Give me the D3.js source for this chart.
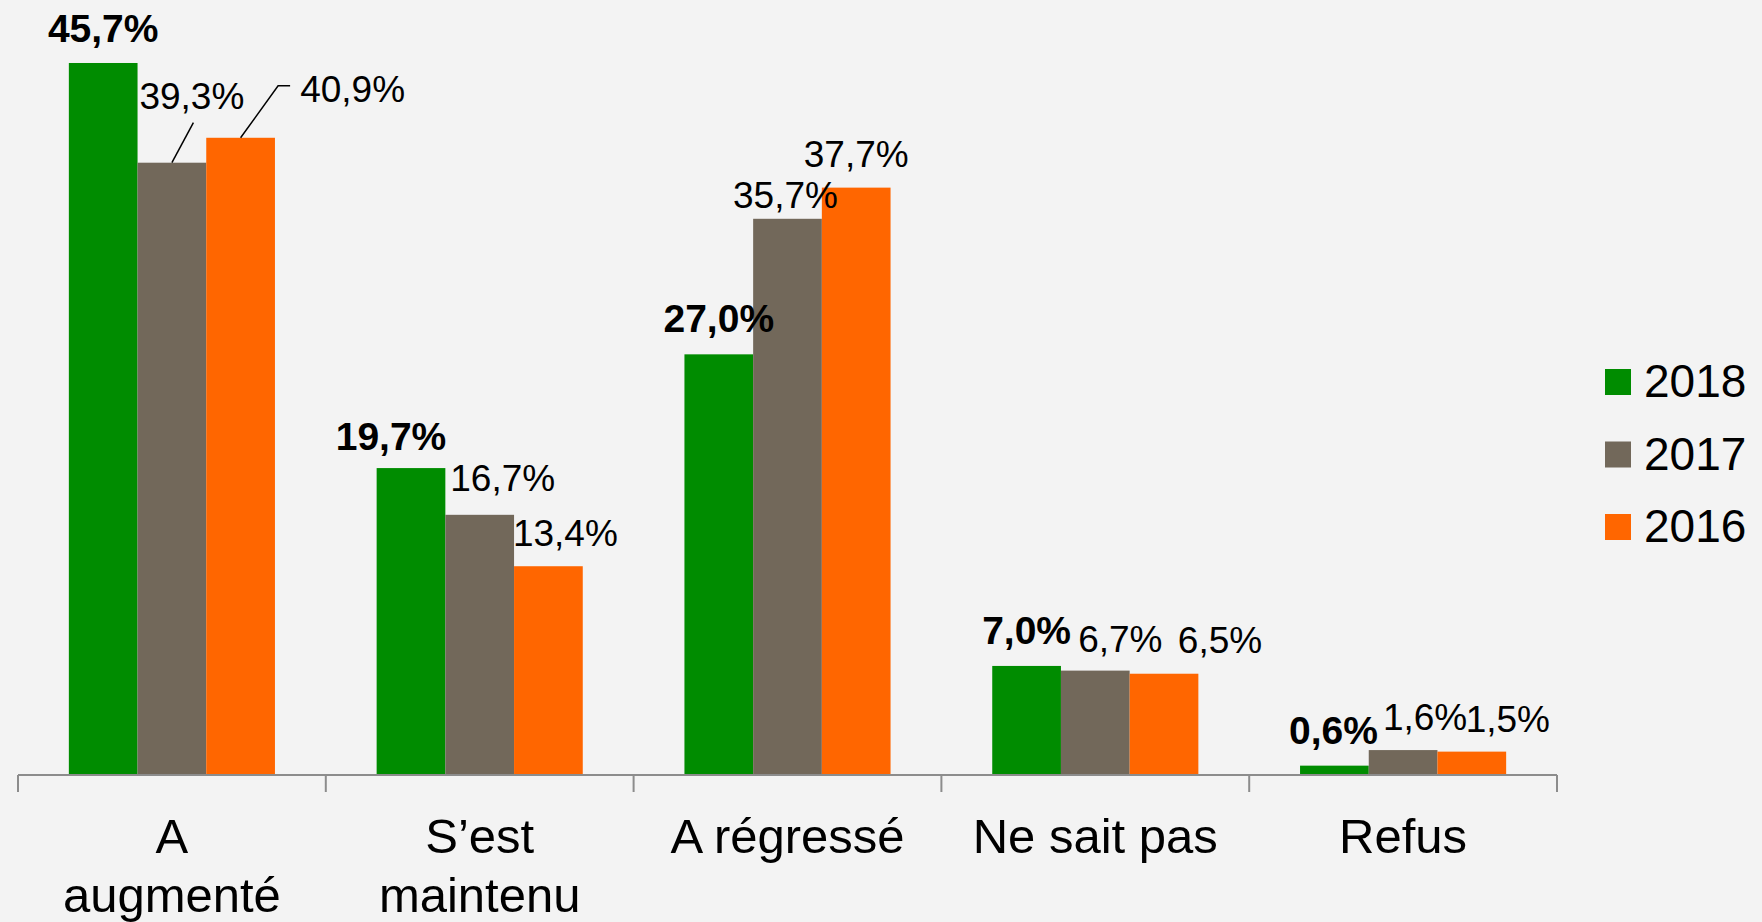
<!DOCTYPE html>
<html>
<head>
<meta charset="utf-8">
<script src="https://cdn.jsdelivr.net/npm/d3@7"></script>
<style>
  html, body { margin: 0; padding: 0; background: #f3f3f3; }
  svg { display: block; }
  text { font-family: "Liberation Sans", Arial, sans-serif; fill: #000; }
</style>
</head>
<body>
<div class="chart-area"></div>
<script>
// categories and series (values in %)
var categories = ["A augmenté", "S’est maintenu", "A régressé", "Ne sait pas", "Refus"];
var categoryLines = [["A", "augmenté"], ["S’est", "maintenu"], ["A régressé"], ["Ne sait pas"], ["Refus"]];
var seriesNames = ["2018", "2017", "2016"];
var values2018 = [45.7, 19.7, 27.0, 7.0, 0.6];
var values2017 = [39.3, 16.7, 35.7, 6.7, 1.6];
var values2016 = [40.9, 13.4, 37.7, 6.5, 1.5];

var colors = ["#008c00", "#72685a", "#ff6600"];

// manual label nudges (dx, dy from bar top centre), like the moved labels in the original
var labelNudge = {
  "2018": [[0, -21], [-20, -18], [0, -22], [0, -22], [-1, -22]],
  "2017": [[20, -54], [23, -24], [-2, -11], [25, -19], [22, -20]],
  "2016": [[112, -36], [17, -20], [0, -21], [56, -21], [36, -20]]
};

var width = 1762, height = 922,
    left = 18, right = 1557, baseY = 775;

var svg = d3.select(".chart-area")
  .append("svg")
    .attr("width", width)
    .attr("height", height);

svg.append("rect")
    .attr("width", width)
    .attr("height", height)
    .style("fill", "#f3f3f3");

var x0 = d3.scaleBand()
    .domain(categories)
    .range([left, right])
    .padding(0);

var x1 = d3.scaleBand()
    .domain(seriesNames)
    .range([0, x0.bandwidth()])
    .paddingInner(0)
    .paddingOuter(0.74);

var y = d3.scaleLinear()
    .domain([0, 50])
    .range([baseY, baseY - 50 * 15.58]);

var fmt = function(v) { return v.toFixed(1).replace(".", ",") + "%"; };

var series = seriesNames.map(function(name, i) {
  var vals = [values2018, values2017, values2016][i];
  return {
    name: name,
    color: colors[i],
    points: categories.map(function(c, j) { return {cat: c, idx: j, value: vals[j]}; })
  };
});

// bars
var groups = svg.selectAll(".series")
    .data(series)
  .enter().append("g")
    .attr("class", "series");

groups.selectAll("rect")
    .data(function(s) { return s.points.map(function(p) { return Object.assign({s: s}, p); }); })
  .enter().append("rect")
    .attr("x", function(d) { return x0(d.cat) + x1(d.s.name); })
    .attr("y", function(d) { return y(d.value); })
    .attr("width", x1.bandwidth())
    .attr("height", function(d) { return baseY - y(d.value); })
    .style("fill", function(d) { return d.s.color; });

// x axis
var xAxis = d3.axisBottom(x0)
    .tickValues([])
    .tickSizeOuter(0);

var axisG = svg.append("g")
    .attr("class", "x axis")
    .attr("transform", "translate(0," + baseY + ")")
    .call(xAxis);
axisG.select(".domain")
    .attr("d", "M" + left + ",0H" + right)
    .style("stroke", "#8c8c8c")
    .style("stroke-width", 2);

// category separators
var sepX = categories.map(function(c) { return x0(c); }).concat([right]);
axisG.selectAll(".sep")
    .data(sepX)
  .enter().append("line")
    .attr("class", "sep")
    .attr("x1", function(d) { return d; })
    .attr("x2", function(d) { return d; })
    .attr("y1", 0)
    .attr("y2", 17)
    .style("stroke", "#8c8c8c")
    .style("stroke-width", 2);

// category labels
var catLabels = svg.selectAll(".cat")
    .data(categories)
  .enter().append("text")
    .attr("class", "cat")
    .attr("x", function(c) { return x0(c) + x0.bandwidth() / 2; })
    .attr("y", 853)
    .style("text-anchor", "middle")
    .style("font-size", "49px");

catLabels.selectAll("tspan")
    .data(function(c, i) { return categoryLines[i]; })
  .enter().append("tspan")
    .attr("x", function() { return d3.select(this.parentNode).attr("x"); })
    .attr("dy", function(d, i) { return i === 0 ? 0 : 59; })
    .text(function(d) { return d; });

// value labels
var labelData = [];
series.forEach(function(s, si) {
  s.points.forEach(function(p) {
    var n = labelNudge[s.name][p.idx];
    var cx = x0(p.cat) + x1(s.name) + x1.bandwidth() / 2;
    labelData.push({
      text: fmt(p.value),
      bold: si === 0,
      barX: cx,
      barY: y(p.value),
      x: cx + n[0],
      y: y(p.value) + n[1],
      series: s.name,
      idx: p.idx
    });
  });
});

svg.selectAll(".val")
    .data(labelData)
  .enter().append("text")
    .attr("class", "val")
    .attr("x", function(d) { return d.x; })
    .attr("y", function(d) { return d.y; })
    .style("text-anchor", "middle")
    .style("font-size", function(d) { return d.bold ? "39px" : "37px"; })
    .style("font-weight", function(d) { return d.bold ? "bold" : "normal"; })
    .text(function(d) { return d.text; });

// leader lines for the two labels dragged away in the first group
var leaders = labelData.filter(function(d) { return d.idx === 0 && d.series !== "2018"; });
svg.selectAll(".leader")
    .data(leaders)
  .enter().append("path")
    .attr("class", "leader")
    .attr("d", function(d) {
      if (d.series === "2017")
        return "M" + d.barX + "," + d.barY + "L" + (d.x + 1.5) + "," + (d.y + 14);
      return "M" + d.barX + "," + d.barY + "L" + (d.x - 74.5) + "," + (d.y - 16) +
             "H" + (d.x - 62.5);
    })
    .style("fill", "none")
    .style("stroke", "#000")
    .style("stroke-width", 1.5);

// legend
var legend = svg.selectAll(".legend")
    .data(series)
  .enter().append("g")
    .attr("class", "legend")
    .attr("transform", function(d, i) { return "translate(1605," + (369 + i * 72.5) + ")"; });

legend.append("rect")
    .attr("width", 26)
    .attr("height", 26)
    .style("fill", function(d) { return d.color; });

legend.append("text")
    .attr("x", 39)
    .attr("y", 28)
    .style("font-size", "46px")
    .text(function(d) { return d.name; });
</script>
</body>
</html>
